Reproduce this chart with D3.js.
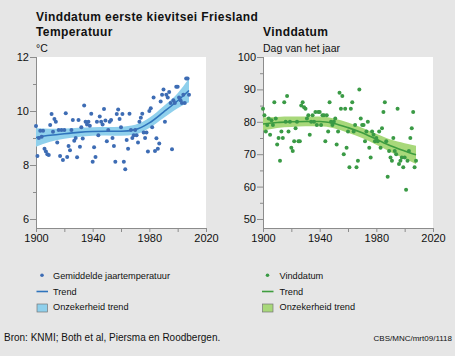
<!DOCTYPE html>
<html><head><meta charset="utf-8">
<script src="https://cdn.jsdelivr.net/npm/d3@7/dist/d3.min.js"></script>
<style>
body{margin:0;background:#e6e6e6}
svg{display:block;font-family:"Liberation Sans",Arial,Helvetica,sans-serif}
</style></head><body>
<svg id="c" width="455" height="356"></svg>
<script>
// ---------- data ----------
const years = [1900,1901,1902,1903,1904,1905,1906,1907,1908,1909,1910,1911,1912,1913,1914,1915,1916,1917,1918,1919,
1920,1921,1922,1923,1924,1925,1926,1927,1928,1929,1930,1931,1932,1933,1934,1935,1936,1937,1938,1939,
1940,1941,1942,1943,1944,1945,1946,1947,1948,1949,1950,1951,1952,1953,1954,1955,1956,1957,1958,1959,
1960,1961,1962,1963,1964,1965,1966,1967,1968,1969,1970,1971,1972,1973,1974,1975,1976,1977,1978,1979,
1980,1981,1982,1983,1984,1985,1986,1987,1988,1989,1990,1991,1992,1993,1994,1995,1996,1997,1998,1999,
2000,2001,2002,2003,2004,2005,2006,2007,2008];

const temperature = [9.44,8.33,9.0,9.27,9.05,9.27,8.6,8.5,8.4,8.37,9.48,9.89,9.23,9.7,9.6,8.83,9.3,8.33,9.3,8.19,
9.3,9.92,8.3,8.7,8.55,9.3,9.67,8.9,9.0,8.29,9.67,8.68,9.4,8.98,10.2,9.6,9.5,9.6,9.45,9.9,
8.12,8.66,8.3,9.6,9.1,9.8,9.6,9.5,10.07,9.65,8.88,9.3,9.6,9.67,9.0,8.7,8.12,9.89,10.06,9.7,
9.4,9.89,8.12,7.84,8.93,8.6,9.9,9.3,9.0,9.1,9.3,9.1,8.83,9.6,9.75,9.9,9.2,9.0,9.2,8.5,
10.0,10.1,9.4,10.5,8.52,8.99,8.6,8.8,10.35,10.6,10.8,9.6,10.6,10.5,10.7,10.3,8.58,10.4,10.3,10.9,
10.9,10.5,10.4,10.3,10.6,10.3,11.2,11.2,10.6];

const vinddatum = [84,82,77,79,81,76,80.5,79,86,81,73,75,68,77,75,86,80,88,77,80,
72,71,74,78,80,74,74,85,86,84.5,84,81,82,76,80,82,80,83,79,83,
83,79,82,82,74,82,77,86,80,79,80,81,73,77,89,84,88,70,84,72,
77,66,84,86,77,79,66,68,90,81,79,79,74,77,80,72,69,77,76,74,
75,74,77,72,78,83,86,74,63,71,69,68,75,71,70,84,67,68,69,66,
69,59,68,71,75,78,83,66,68];

const trendYears = [1900,1910,1920,1930,1940,1950,1960,1970,1980,1990,2000,2008];
const tempTrend  = [9.02,9.1,9.16,9.21,9.24,9.25,9.25,9.31,9.56,9.96,10.38,10.76];
const tempLow    = [8.68,8.86,8.97,9.04,9.08,9.09,9.08,9.13,9.37,9.74,10.1,10.32];
const tempHigh   = [9.36,9.34,9.35,9.38,9.4,9.41,9.42,9.49,9.75,10.18,10.66,11.2];
const vindTrend  = [79.3,79.8,80.0,80.1,80.1,79.5,78.2,76.6,74.6,72.6,71.0,69.8];
const vindLow    = [77.3,78.1,78.4,78.6,78.6,78.0,76.6,75.0,72.9,70.7,68.6,67.0];
const vindHigh   = [81.3,81.5,81.6,81.6,81.6,81.0,79.8,78.2,76.3,74.5,73.4,72.6];

const xMajorTicks = [1900,1940,1980,2020];
const xMinorTicks = [1920,1960,2000];
const tempMajorTicks = [6,8,10,12];
const tempMinorTicks = [7,9,11];
const vindMajorTicks = [50,60,70,80,90,100];
const vindMinorTicks = [55,65,75,85,95];

const legendLeft  = ["Gemiddelde jaartemperatuur","Trend","Onzekerheid trend"];
const legendRight = ["Vinddatum","Trend","Onzekerheid trend"];

// ---------- drawing ----------
const svg = d3.select("#c");
svg.append("rect").attr("width",455).attr("height",356).attr("fill","#e6e6e6");

const axisCol = "#8c8c8c";
const plotTop = 57, plotBottom = 228, plotW = 170;

svg.append("text").attr("x",36).attr("y",21).attr("font-size",12).attr("font-weight","bold")
  .attr("letter-spacing",0.4).attr("fill","#111").text("Vinddatum eerste kievitsei Friesland");

function panel(opt){
  const g = svg.append("g");
  const x = d3.scaleLinear().domain([1900,2020]).range([opt.left, opt.left+plotW]);
  const y = d3.scaleLinear().domain(opt.ydom).range([plotBottom, plotTop]);
  g.append("rect").attr("x",opt.left).attr("y",plotTop).attr("width",plotW).attr("height",plotBottom-plotTop).attr("fill","#fff");

  g.append("text").attr("x",opt.left).attr("y",36).attr("font-size",12).attr("font-weight","bold")
    .attr("letter-spacing",0.4).attr("fill","#111").text(opt.title);
  g.append("text").attr("x",opt.left).attr("y",52).attr("font-size",10.5)
    .attr("fill","#111").text(opt.unit);

  // y axis
  const ya = g.append("g").attr("transform",`translate(${opt.left},0)`)
    .call(d3.axisLeft(y).tickValues(opt.major).tickSize(6).tickSizeOuter(0).tickFormat(d3.format("d")));
  ya.select(".domain").remove();
  ya.selectAll(".tick line").attr("stroke",axisCol);
  ya.selectAll(".tick text").attr("font-size",11).attr("fill","#111").attr("x",-7)
    .attr("font-family","Liberation Sans, Arial, sans-serif");
  const ym = g.append("g").attr("transform",`translate(${opt.left},0)`)
    .call(d3.axisLeft(y).tickValues(opt.minor).tickSize(3).tickFormat(""));
  ym.select(".domain").remove();
  ym.selectAll(".tick line").attr("stroke",axisCol);
  g.append("line").attr("x1",opt.left+0.5).attr("x2",opt.left+0.5).attr("y1",plotTop).attr("y2",plotBottom).attr("stroke",axisCol);

  // x axis
  const xa = g.append("g").attr("transform",`translate(0,${plotBottom})`)
    .call(d3.axisBottom(x).tickValues(xMajorTicks).tickSize(4).tickSizeOuter(0).tickFormat(d3.format("d")));
  xa.select(".domain").attr("stroke",axisCol);
  xa.selectAll(".tick line").attr("stroke",axisCol);
  xa.selectAll(".tick text").attr("font-size",11).attr("fill","#111").attr("y",6)
    .attr("font-family","Liberation Sans, Arial, sans-serif");
  const xm = g.append("g").attr("transform",`translate(0,${plotBottom})`)
    .call(d3.axisBottom(x).tickValues(xMinorTicks).tickSize(4).tickFormat(""));
  xm.select(".domain").remove();
  xm.selectAll(".tick line").attr("stroke",axisCol);

  const tr = trendYears.map((yr,i)=>({yr, m:opt.trend[i], lo:opt.low[i], hi:opt.high[i]}));
  g.append("path").datum(tr)
    .attr("d", d3.area().x(d=>x(d.yr)).y0(d=>y(d.lo)).y1(d=>y(d.hi)).curve(d3.curveMonotoneX))
    .attr("fill",opt.band);
  g.append("path").datum(tr)
    .attr("d", d3.line().x(d=>x(d.yr)).y(d=>y(d.m)).curve(d3.curveMonotoneX))
    .attr("fill","none").attr("stroke",opt.line).attr("stroke-width",1.6);

  g.selectAll("circle.pt").data(years.map((yr,i)=>({yr, v:opt.values[i]})))
    .enter().append("circle").attr("class","pt")
    .attr("cx",d=>x(d.yr)).attr("cy",d=>y(d.v)).attr("r",2).attr("fill",opt.dot);

  // legend
  const lx = opt.legendX, tx = opt.legendX + opt.textOff;
  g.append("circle").attr("cx",lx+5.5).attr("cy",275.3).attr("r",1.8).attr("fill",opt.dot);
  g.append("line").attr("x1",lx).attr("x2",lx+11.5).attr("y1",291.5).attr("y2",291.5)
    .attr("stroke",opt.line).attr("stroke-width",1.6);
  g.append("rect").attr("x",lx+0.5).attr("y",304).attr("width",10.5).attr("height",8)
    .attr("fill",opt.band).attr("stroke","#777").attr("stroke-width",0.7);
  g.selectAll("text.leg").data(opt.legend).enter().append("text").attr("class","leg")
    .attr("x",tx).attr("y",(d,i)=>279+i*15.7).attr("font-size",9.2).attr("fill","#111").text(d=>d);
}

panel({left:36, ydom:[5.667,12], title:"Temperatuur", unit:"°C",
  major:tempMajorTicks, minor:tempMinorTicks, values:temperature,
  trend:tempTrend, low:tempLow, high:tempHigh,
  dot:"#3d6cb4", line:"#2f74bc", band:"#8fd0ec", legend:legendLeft, legendX:36.5, textOff:16.5});

panel({left:263, ydom:[47.22,100], title:"Vinddatum", unit:"Dag van het jaar",
  major:vindMajorTicks, minor:vindMinorTicks, values:vinddatum,
  trend:vindTrend, low:vindLow, high:vindHigh,
  dot:"#3a9a45", line:"#3f9d3f", band:"#a8d87a", legend:legendRight, legendX:262, textOff:17.5});

svg.append("text").attr("x",4).attr("y",341).attr("font-size",10).attr("fill","#111")
  .text("Bron: KNMI; Both et al, Piersma en Roodbergen.");
svg.append("text").attr("x",452).attr("y",341).attr("font-size",8).attr("fill","#111")
  .attr("text-anchor","end").text("CBS/MNC/mrt09/1118");
</script>
</body></html>
